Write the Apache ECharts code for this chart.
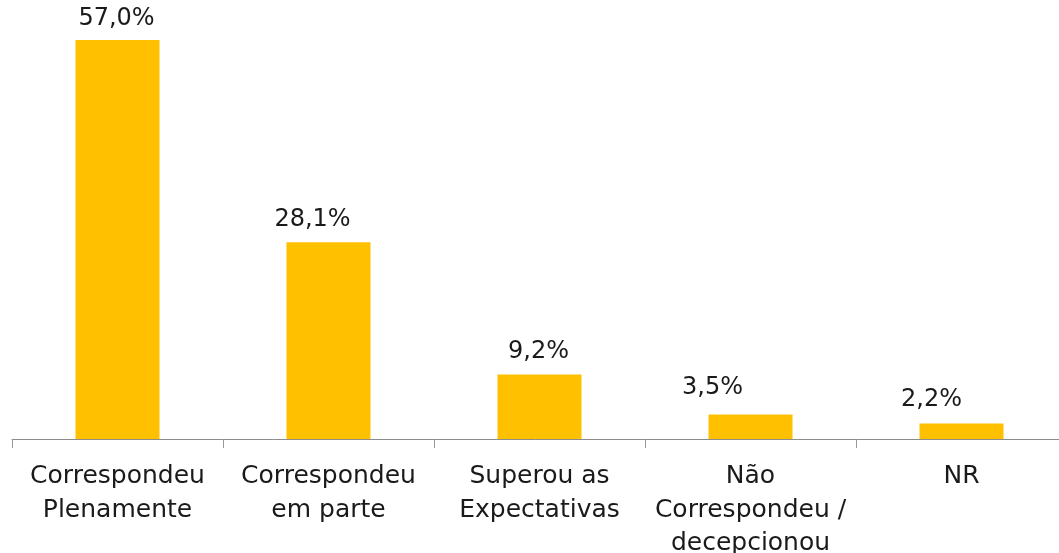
<!DOCTYPE html>
<html>
<head>
<meta charset="utf-8">
<script src="https://cdn.jsdelivr.net/npm/echarts@6/dist/echarts.min.js"></script>
<style>
  html, body { margin: 0; padding: 0; background: #fff; }
  #chart { width: 1059px; height: 553px; }
</style>
</head>
<body>
<div id="chart"></div>
<script>
// Survey answers and their shares (%)
const categories = [
  'Correspondeu\nPlenamente',
  'Correspondeu\nem parte',
  'Superou as\nExpectativas',
  'Não\nCorrespondeu /\ndecepcionou',
  'NR'
];
const shares = [57.0, 28.1, 9.2, 3.5, 2.2];

// Nudges for each value label (x, y in px)
const labelNudge = [[-1, 0], [-16, -2], [-1, -2], [-38, -6], [-30, -3]];

const fmt = v => v.toFixed(1).replace('.', ',') + '%';

const chart = echarts.init(document.getElementById('chart'), null, { renderer: 'canvas' });

chart.setOption({
  animation: false,
  backgroundColor: '#ffffff',
  grid: {
    left: 12,
    top: 19,
    bottom: 114,
    width: 1055,
    containLabel: false,
    outerBoundsMode: 'none'
  },
  xAxis: {
    type: 'category',
    data: categories,
    boundaryGap: true,
    axisLine: { show: true, lineStyle: { color: '#8c8c8c', width: 1 } },
    axisTick: { show: true, length: 9, lineStyle: { color: '#999999', width: 1 } },
    axisLabel: {
      interval: 0,
      margin: 21,
      color: '#1a1a1a',
      fontFamily: 'DejaVu Sans',
      fontSize: 25,
      lineHeight: 33.5
    }
  },
  yAxis: {
    type: 'value',
    min: 0,
    max: 60,
    show: false,
    splitLine: { show: false }
  },
  series: [{
    type: 'bar',
    barWidth: 84,
    itemStyle: { color: '#FFC000' },
    data: shares.map((v, i) => ({
      value: v,
      label: { offset: labelNudge[i] }
    })),
    label: {
      show: true,
      position: 'top',
      distance: 9,
      color: '#1a1a1a',
      fontFamily: 'DejaVu Sans',
      fontSize: 24,
      formatter: p => fmt(p.value)
    }
  }]
});
</script>
</body>
</html>
